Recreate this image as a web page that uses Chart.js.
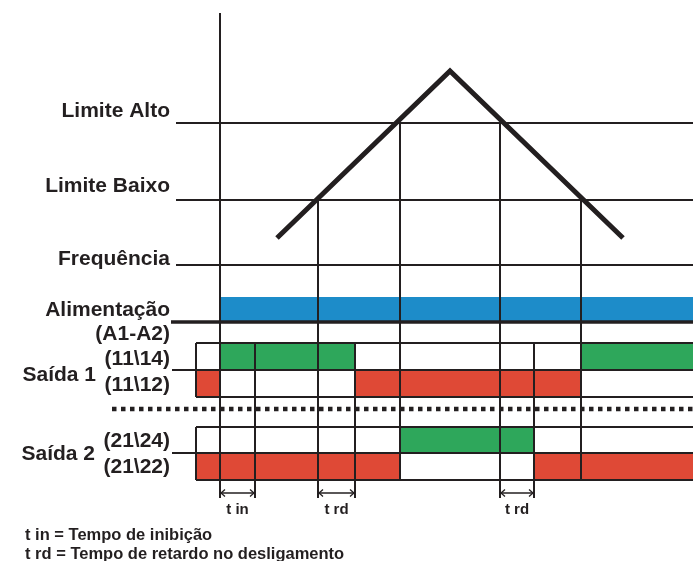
<!DOCTYPE html>
<html>
<head>
<meta charset="utf-8">
<script src="https://cdn.jsdelivr.net/npm/chart.js@4.4.1/dist/chart.umd.min.js"></script>
<style>
  html, body { margin: 0; padding: 0; background: #fff; }
  #diagram { display: block; }
</style>
</head>
<body>
<canvas id="diagram" width="693" height="561"></canvas>
<script>
// time axis, 0 = supply applied on A1-A2
const tBoxStart = -24;
const tEnd = 473;

// frequency levels
const limitLabels = ['Limite Alto', 'Limite Baixo', 'Frequência'];
const limitValues = [142, 65, 0];
const freqTimes = [57, 230, 403];
const freqValues = [27, 194, 27];

// frequency crossing the limits, and which limit
const crossTimes = [98, 180, 280, 361];
const crossLimits = [65, 142, 142, 65];

// timers: t in after power on, t rd after leaving the window
const delayStarts = [0, 98, 280];
const delayEnds = [35, 135, 314];
const delayLabels = ['t in', 't rd', 't rd'];

// contact states (1 = NA closed)
const powerTimes = [0, 473];
const powerStates = [1, 1];
const out1Times = [-24, 0, 135, 361, 473];
const out1States = [0, 1, 0, 1, 1];
const out2Times = [-24, 180, 314, 473];
const out2States = [0, 1, 0, 0];

const notes = ['t in = Tempo de inibição', 't rd = Tempo de retardo no desligamento'];

// page layout (pixels on the lane axis)
const L = {
  freqZero: 265, top: 13,
  powerTop: 297, powerBase: 322,
  s1: [343, 370, 397], sep: 409, s2: [427, 453, 480],
  markY: 493, markBottom: 498
};

const ink = '#231f20';
const blue = '#1d8cc9';
const green = '#2ea75b';
const red = '#df4936';
const datasets = [];

function seg(points, opts) {
  datasets.push(Object.assign({
    type: 'line', data: points, borderColor: ink, borderWidth: 2,
    pointRadius: 0, fill: false, yAxisID: 'yL', order: 1,
    borderCapStyle: 'butt'
  }, opts || {}));
}

function lane(times, states, top, base, on, color) {
  datasets.push({
    type: 'line', yAxisID: 'yL', order: 5, stepped: true,
    data: times.map((t, i) => ({ x: t, y: states[i] === on ? top : base })),
    borderColor: 'rgba(0,0,0,0)', borderWidth: 0, pointRadius: 0,
    backgroundColor: color, fill: { value: base }
  });
}

// coloured state fills
lane(powerTimes, powerStates, L.powerTop, L.powerBase, 1, blue);
lane(out1Times, out1States, L.s1[0], L.s1[1], 1, green);
lane(out1Times, out1States, L.s1[1], L.s1[2], 0, red);
lane(out2Times, out2States, L.s2[0], L.s2[1], 1, green);
lane(out2Times, out2States, L.s2[1], L.s2[2], 0, red);

// frequency limits and curve
limitValues.forEach(v => seg([{ x: -44, y: v }, { x: tEnd, y: v }], { yAxisID: 'yF' }));
seg(freqTimes.map((t, i) => ({ x: t, y: freqValues[i] })),
    { yAxisID: 'yF', borderWidth: 5, borderJoinStyle: 'miter', order: 0 });

// supply base line
seg([{ x: -49, y: L.powerBase }, { x: tEnd, y: L.powerBase }], { borderWidth: 3.5 });

// output boxes
L.s1.forEach((y, i) => seg([{ x: i === 1 ? -48 : tBoxStart, y }, { x: tEnd, y }]));
L.s2.forEach((y, i) => seg([{ x: i === 1 ? -48 : tBoxStart, y }, { x: tEnd, y }]));
seg([{ x: tBoxStart, y: L.s1[0] }, { x: tBoxStart, y: L.s1[2] }]);
seg([{ x: tBoxStart, y: L.s2[0] }, { x: tBoxStart, y: L.s2[2] }]);
seg([{ x: -108, y: L.sep }, { x: tEnd, y: L.sep }], { borderWidth: 4.5, borderDash: [4.5, 4.5] });

// event lines
seg([{ x: 0, y: L.top }, { x: 0, y: L.markBottom }]);
crossTimes.forEach((t, i) => {
  const bottom = delayStarts.includes(t) ? L.markBottom : L.s2[2];
  seg([{ x: t, y: L.freqZero - crossLimits[i] }, { x: t, y: bottom }]);
});
delayEnds.forEach(t => seg([{ x: t, y: L.s1[0] }, { x: t, y: L.markBottom }]));
delayStarts.forEach((t, i) => seg([{ x: t, y: L.markY }, { x: delayEnds[i], y: L.markY }], { borderWidth: 1.3 }));

const textPlugin = {
  id: 'texts',
  afterDraw(chart) {
    const c = chart.ctx;
    const x = chart.scales.x, yF = chart.scales.yF, yL = chart.scales.yL;
    const font = s => 'bold ' + s + "px 'Liberation Sans', Arial, sans-serif";
    c.save();
    c.fillStyle = ink;
    c.strokeStyle = ink;

    // arrow heads on the timer marks
    c.lineWidth = 1.3;
    delayStarts.forEach((t, i) => {
      const y = yL.getPixelForValue(L.markY);
      const a = x.getPixelForValue(t), b = x.getPixelForValue(delayEnds[i]);
      c.beginPath();
      c.moveTo(a + 5, y - 3.5); c.lineTo(a + 1, y); c.lineTo(a + 5, y + 3.5);
      c.moveTo(b - 5, y - 3.5); c.lineTo(b - 1, y); c.lineTo(b - 5, y + 3.5);
      c.stroke();
    });

    c.font = font(21);
    c.textAlign = 'right';
    c.textBaseline = 'alphabetic';
    const right = 170;
    const offs = [-6, -8, 0];
    limitLabels.forEach((s, i) => c.fillText(s, right, yF.getPixelForValue(limitValues[i]) + offs[i]));
    c.fillText('Alimentação', right, 316);
    c.fillText('(A1-A2)', right, 340);
    c.fillText('(11\\14)', right, 365);
    c.fillText('(11\\12)', right, 391);
    c.fillText('(21\\24)', right, 447);
    c.fillText('(21\\22)', right, 473);
    c.fillText('Saída 1', 96, 381);
    c.fillText('Saída 2', 95, 460);

    c.font = font(15);
    c.textAlign = 'center';
    delayLabels.forEach((s, i) => {
      const m = (x.getPixelForValue(delayStarts[i]) + x.getPixelForValue(delayEnds[i])) / 2;
      c.fillText(s, m, 514);
    });

    c.font = font(16.5);
    c.textAlign = 'left';
    c.fillText(notes[0], 25, 540);
    c.fillText(notes[1], 25, 558.5);
    c.restore();
  }
};

new Chart(document.getElementById('diagram'), {
  type: 'line',
  data: { datasets },
  options: {
    responsive: false,
    animation: false,
    layout: { padding: 0 },
    plugins: { legend: { display: false }, tooltip: { enabled: false } },
    scales: {
      x: { type: 'linear', min: -220, max: tEnd, display: false },
      yF: { type: 'linear', min: L.freqZero - 561, max: L.freqZero, display: false },
      yL: { type: 'linear', min: 0, max: 561, reverse: true, display: false }
    }
  },
  plugins: [textPlugin]
});
</script>
</body>
</html>
